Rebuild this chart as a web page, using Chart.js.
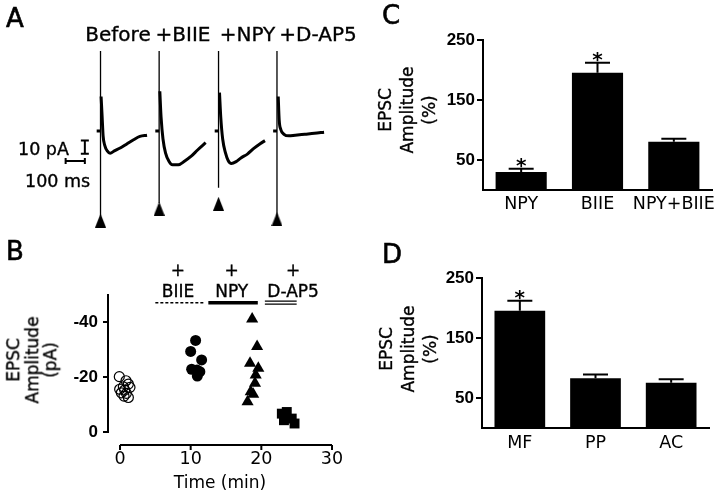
<!DOCTYPE html>
<html>
<head>
<meta charset="utf-8">
<script src="https://cdn.jsdelivr.net/npm/chart.js@4.4.1/dist/chart.umd.min.js"></script>
<style>
  body { margin: 0; background: #fff; }
  #fig { position: relative; width: 720px; height: 494px; overflow: hidden;
         font-family: 'DejaVu Sans', sans-serif; color: #000; }
  #fig canvas { position: absolute; }
  .t { position: absolute; white-space: nowrap; line-height: 1; -webkit-text-stroke: 0.35px #000; }
  .letter { font-size: 26px; -webkit-text-stroke: 0.6px #000; }
  .cond { font-size: 20px; transform: translateX(-50%); }
  .sb { font-size: 17.5px; }
  .ytitle { position: absolute; font-size: 17px; text-align: center; white-space: nowrap;
            -webkit-text-stroke: 0.35px #000;
            transform: translate(-50%, -50%) rotate(-90deg); }
</style>
</head>
<body>
<div id="fig">
  <canvas id="panelA" width="360" height="245" style="left:0;top:0"></canvas>
  <canvas id="panelB" width="360" height="239" style="left:0;top:255px"></canvas>
  <canvas id="panelC" width="360" height="250" style="left:360px;top:0"></canvas>
  <canvas id="panelD" width="360" height="254" style="left:360px;top:240px"></canvas>

  <div class="t letter" style="left:6px;top:5px">A</div>
  <div class="t letter" style="left:6px;top:238px">B</div>
  <div class="t letter" style="left:382px;top:2px">C</div>
  <div class="t letter" style="left:382px;top:241px">D</div>

  <div class="t cond" style="left:118px;top:23.7px">Before</div>
  <div class="t cond" style="left:183px;top:23.7px">+BIIE</div>
  <div class="t cond" style="left:247.5px;top:23.7px">+NPY</div>
  <div class="t cond" style="left:318px;top:23.7px">+D-AP5</div>

  <div class="t sb" style="left:18px;top:141px">10 pA</div>
  <div class="t sb" style="left:25px;top:173px">100 ms</div>

  <div class="ytitle" style="left:31.6px;top:360px;line-height:18.5px">EPSC<br>Amplitude<br>(pA)</div>
  <div class="ytitle" style="left:407px;top:110px;line-height:22px">EPSC<br>Amplitude<br>(%)</div>
  <div class="ytitle" style="left:408px;top:349px;line-height:22px">EPSC<br>Amplitude<br>(%)</div>
</div>

<script>
// ---- Panel A: example EPSC traces (time in ms from stimulus, current in pA from baseline)
const beforeT = [3, 8.5, 13.5, 22, 35, 50, 72, 105, 138.5, 172, 205, 242];
const beforeV = [26.1, 10.6, -3.7, -10.9, -15.1, -16.8, -15.1, -12.7, -9.6, -6.6, -4.1, -3.2];
const biieT = [3.5, 10, 20, 33.5, 50, 70, 100, 133.5, 167, 200, 242];
const biieV = [30.1, 10.6, -6.1, -16.8, -22.7, -25.6, -25.6, -22.7, -19.1, -14.4, -8.9];
const npyT = [5, 11.5, 21.5, 36.5, 50, 66.5, 91.5, 116.5, 150, 183.5, 216.5, 241.5];
const npyV = [29.1, 10.6, -6.1, -16.8, -22.3, -24.6, -23.2, -20.4, -17.5, -13.2, -9.6, -7.3];
const dap5T = [6.5, 11.5, 20, 36.5, 61.5, 95, 145, 195, 245];
const dap5V = [26.1, 8.2, 1.1, -2.5, -3.7, -3.2, -2.5, -1.8, -0.9];
const artifactTop = [60.6, 60.6, 60.6, 60.6];
const artifactBottom = [-64.4, -54.6, -43, -64.4];
const stimMarkV = [-67.9, -58.9, -55.1, -66.8];

// ---- Panel B: EPSC amplitude over time
const ctrlT = [-0.1, 0.85, 1.18, 0.47, 1.41, -0.05, 0.66, 0.19, 0.9, 0.57, 1.18];
const ctrlV = [-20.2, -18.7, -17.5, -16.5, -16.3, -15.6, -15.3, -14.3, -14.1, -13.1, -12.6];
const biieTimeB = [10.7, 10.0, 11.55, 10.14, 10.9, 11.3, 10.94];
const biieAmpB = [-33.4, -29.4, -26.3, -22.9, -22.6, -22.0, -20.4];
const npyTimeB = [18.7, 19.4, 18.4, 19.57, 19.2, 19.1, 18.5, 18.85, 18.05];
const npyAmpB = [-41.2, -31.2, -25.1, -23.3, -20.8, -17.8, -14.7, -13.8, -11.0];
const dap5TimeB = [22.9, 23.6, 23.2, 24.3, 24.7];
const dap5AmpB = [-6.7, -7.3, -4.3, -4.9, -3.1];
const bTicksX = [0, 10, 20, 30];
const bTicksY = [-40, -20, 0];
const treatLabels = ['BIIE', 'NPY', 'D-AP5'];
const treatStart = [5, 12.5, 20.5];
const treatEnd = [12, 19.5, 25];
const treatLabelAt = [8.2, 15.8, 24.5];

// ---- Panels C and D: normalised EPSC amplitude (mean and SEM)
const cLabels = ['NPY', 'BIIE', 'NPY+BIIE'];
const cMeans = [30, 195.5, 80.5];
const cErrors = [5.5, 16.5, 5];
const cStars = ['*', '*', ''];
const dLabels = ['MF', 'PP', 'AC'];
const dMeans = [195.5, 83, 75.5];
const dErrors = [16.5, 6, 5.7];
const dStars = ['*', '', ''];
const pctTicks = [50, 150, 250];

Chart.defaults.font.family = "'DejaVu Sans', sans-serif";
Chart.defaults.color = '#000';
Chart.defaults.animation = false;
Chart.defaults.responsive = false;
Chart.defaults.plugins.legend.display = false;
Chart.defaults.plugins.tooltip.enabled = false;

const tickFont = { family: "'Liberation Sans', Arial, sans-serif", size: 17, weight: 'bold' };

// ---------- Panel A
const traceOffsets = [0, 305, 614, 918]; // traces laid side by side
const tracesT = [beforeT, biieT, npyT, dap5T];
const tracesV = [beforeV, biieV, npyV, dap5V];

const tri = document.createElement('canvas');
tri.width = 11; tri.height = 14;
const g = tri.getContext('2d');
g.beginPath(); g.moveTo(5.5, 0); g.lineTo(11, 14); g.lineTo(0, 14); g.closePath();
g.fillStyle = '#000'; g.fill();

const datasetsA = [];
tracesT.forEach((ts, i) => {
  const off = traceOffsets[i];
  datasetsA.push({ data: [{ x: off - 20, y: 0 }, { x: off, y: 0 }], borderWidth: 3 });
  datasetsA.push({ data: [{ x: off, y: artifactTop[i] }, { x: off, y: artifactBottom[i] }], borderWidth: 1.3 });
  datasetsA.push({
    data: ts.map((t, k) => ({ x: off + t, y: tracesV[i][k] })),
    borderWidth: 3, cubicInterpolationMode: 'monotone'
  });
});
datasetsA.push({
  data: traceOffsets.map((off, i) => ({ x: off, y: stimMarkV[i] })),
  showLine: false, pointStyle: tri, pointRadius: 6
});
datasetsA.forEach(d => {
  d.borderColor = '#000';
  d.backgroundColor = '#000';
  if (d.pointRadius === undefined) d.pointRadius = 0;
});

const scaleBars = {
  id: 'scaleBars',
  afterDatasetsDraw(chart) {
    const { ctx, scales: { x, y } } = chart;
    const barX = -81.5, barTop = -7.3, hBarY = -22.7;
    const vx = x.getPixelForValue(barX);
    const y0 = y.getPixelForValue(barTop), y1 = y.getPixelForValue(barTop - 10);
    const hy = y.getPixelForValue(hBarY);
    const hx0 = x.getPixelForValue(barX - 100);
    ctx.save();
    ctx.strokeStyle = '#000';
    ctx.lineWidth = 2;
    ctx.beginPath();
    ctx.moveTo(vx, y0); ctx.lineTo(vx, y1);
    ctx.moveTo(vx - 4, y0); ctx.lineTo(vx + 4, y0);
    ctx.moveTo(vx - 4, y1); ctx.lineTo(vx + 4, y1);
    ctx.moveTo(hx0, hy); ctx.lineTo(vx, hy);
    ctx.moveTo(hx0, hy - 3); ctx.lineTo(hx0, hy + 3);
    ctx.moveTo(vx, hy - 3); ctx.lineTo(vx, hy + 3);
    ctx.stroke();
    ctx.restore();
  }
};

new Chart(document.getElementById('panelA'), {
  type: 'line',
  data: { datasets: datasetsA },
  options: {
    devicePixelRatio: 1,
    layout: { padding: 0 },
    scales: {
      x: { type: 'linear', min: -486.5, max: 1313.5, display: false },
      y: { type: 'linear', min: -81.07, max: 93.93, display: false }
    }
  },
  plugins: [scaleBars]
});

// ---------- Panel B
const toPts = (xs, ys) => xs.map((v, i) => ({ x: v, y: ys[i] }));

const treatments = {
  id: 'treatments',
  afterDraw(chart) {
    const { ctx, chartArea, scales: { x } } = chart;
    ctx.save();
    ctx.fillStyle = '#000';
    ctx.strokeStyle = '#000';
    ctx.font = "17px 'DejaVu Sans', sans-serif";
    ctx.textAlign = 'center';
    ctx.textBaseline = 'alphabetic';
    const ly = chartArea.top + 7.7;
    treatLabels.forEach((lab, i) => {
      const x0 = x.getPixelForValue(treatStart[i]);
      const x1 = x.getPixelForValue(treatEnd[i]);
      const cx = x.getPixelForValue(treatLabelAt[i]);
      ctx.setLineDash([]);
      ctx.lineWidth = 0.35;
      ctx.fillText('+', cx, chartArea.top - 19);
      ctx.strokeText('+', cx, chartArea.top - 19);
      ctx.fillText(lab, cx, chartArea.top + 2);
      ctx.strokeText(lab, cx, chartArea.top + 2);
      ctx.beginPath();
      if (i === 0) {
        ctx.lineWidth = 1.5; ctx.setLineDash([3, 2]);
        ctx.moveTo(x0, ly); ctx.lineTo(x1, ly);
      } else if (i === 1) {
        ctx.lineWidth = 3.5;
        ctx.moveTo(x0, ly); ctx.lineTo(x1, ly);
      } else {
        ctx.lineWidth = 1.2;
        ctx.moveTo(x0, ly - 1.5); ctx.lineTo(x1, ly - 1.5);
        ctx.moveTo(x0, ly + 1.5); ctx.lineTo(x1, ly + 1.5);
      }
      ctx.stroke();
    });
    // offset time axis below the plot
    ctx.setLineDash([]);
    ctx.lineWidth = 2;
    const ay = chartArea.bottom + 13;
    ctx.beginPath();
    ctx.moveTo(x.getPixelForValue(bTicksX[0]), ay);
    ctx.lineTo(x.getPixelForValue(bTicksX[bTicksX.length - 1]), ay);
    bTicksX.forEach(v => {
      const px = x.getPixelForValue(v);
      ctx.moveTo(px, ay); ctx.lineTo(px, ay + 5);
    });
    ctx.stroke();
    ctx.restore();
  }
};

new Chart(document.getElementById('panelB'), {
  type: 'scatter',
  data: {
    datasets: [
      { data: toPts(ctrlT, ctrlV), pointStyle: 'circle', pointRadius: 5, borderWidth: 1.2,
        borderColor: '#000', backgroundColor: 'rgba(0,0,0,0)' },
      { data: toPts(biieTimeB, biieAmpB), pointStyle: 'circle', pointRadius: 5.5, borderWidth: 0,
        borderColor: '#000', backgroundColor: '#000' },
      { data: toPts(npyTimeB, npyAmpB), pointStyle: 'triangle', pointRadius: 7, borderWidth: 0,
        borderColor: '#000', backgroundColor: '#000' },
      { data: toPts(dap5TimeB, dap5AmpB), pointStyle: 'rect', pointRadius: 7, borderWidth: 0,
        borderColor: '#000', backgroundColor: '#000' }
    ]
  },
  options: {
    devicePixelRatio: 1,
    layout: { padding: { top: 40, right: 28, left: 0, bottom: 0 } },
    scales: {
      x: {
        type: 'linear', min: -1.7, max: 30,
        grid: { display: false }, border: { display: false },
        afterBuildTicks: s => { s.ticks = bTicksX.map(v => ({ value: v })); },
        afterFit: s => { s.height = 62; },
        ticks: { padding: 9, font: { size: 17.5 }, maxRotation: 0, autoSkip: false },
        title: { display: true, text: 'Time (min)', font: { size: 17 }, padding: 0 }
      },
      y: {
        type: 'linear', reverse: true, min: -50, max: 0,
        afterBuildTicks: s => { s.ticks = bTicksY.map(v => ({ value: v })); },
        afterFit: s => { s.width = 108; },
        grid: { drawOnChartArea: false, tickLength: 5, color: '#000', lineWidth: 2 },
        border: { color: '#000', width: 2 },
        ticks: { padding: 5, font: tickFont }
      }
    }
  },
  plugins: [treatments]
});

// ---------- Panels C and D
function errorBars(errors, stars) {
  return {
    id: 'errorBars',
    afterDatasetsDraw(chart) {
      const { ctx, scales: { y } } = chart;
      const meta = chart.getDatasetMeta(0);
      const vals = chart.data.datasets[0].data;
      ctx.save();
      ctx.strokeStyle = '#000';
      ctx.fillStyle = '#000';
      ctx.lineWidth = 2;
      ctx.font = "bold 20px 'DejaVu Sans', sans-serif";
      ctx.textAlign = 'center';
      ctx.textBaseline = 'alphabetic';
      meta.data.forEach((bar, i) => {
        const yTop = y.getPixelForValue(vals[i]);
        const yErr = y.getPixelForValue(vals[i] + errors[i]);
        ctx.beginPath();
        ctx.moveTo(bar.x, yTop); ctx.lineTo(bar.x, yErr);
        ctx.moveTo(bar.x - 12.5, yErr); ctx.lineTo(bar.x + 12.5, yErr);
        ctx.stroke();
        if (stars[i]) ctx.fillText(stars[i], bar.x, yErr + 3);
      });
      ctx.restore();
    }
  };
}

function barPanel(id, labels, means, errors, stars, box) {
  new Chart(document.getElementById(id), {
    type: 'bar',
    data: {
      labels: labels,
      datasets: [{ data: means, backgroundColor: '#000', barPercentage: 0.67, categoryPercentage: 1 }]
    },
    options: {
      devicePixelRatio: 1,
      layout: { padding: { top: box.top, right: box.right, left: 0, bottom: 0 } },
      scales: {
        x: {
          grid: { display: false },
          border: { color: '#000', width: 2 },
          afterFit: s => { s.height = box.xh; },
          ticks: { padding: box.pad, font: { size: 17.5 }, maxRotation: 0, autoSkip: false }
        },
        y: {
          min: 0, max: 250,
          afterBuildTicks: s => { s.ticks = pctTicks.map(v => ({ value: v })); },
          afterFit: s => { s.width = box.yw; },
          grid: { drawOnChartArea: false, tickLength: 6, color: '#000', lineWidth: 2 },
          border: { color: '#000', width: 2 },
          ticks: { padding: 2, font: tickFont }
        }
      }
    },
    plugins: [errorBars(errors, stars)]
  });
}

barPanel('panelC', cLabels, cMeans, cErrors, cStars, { top: 40, right: 8, xh: 60, yw: 123, pad: -4 });
barPanel('panelD', dLabels, dMeans, dErrors, dStars, { top: 38, right: 11, xh: 66, yw: 122, pad: -3 });
</script>
</body>
</html>
